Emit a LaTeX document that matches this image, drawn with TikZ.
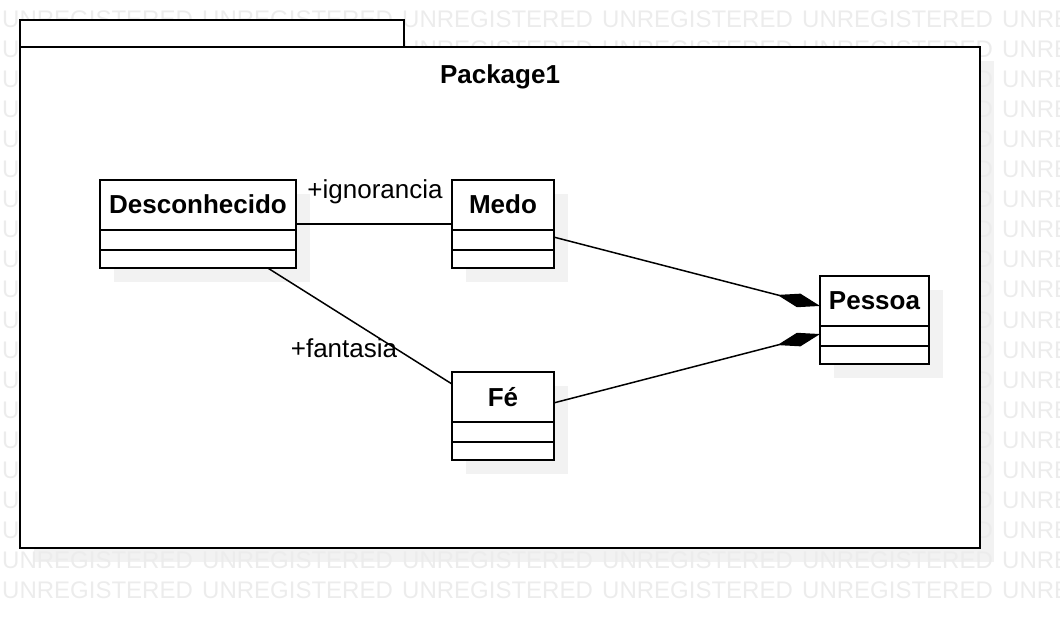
\documentclass[tikz,border=0pt]{standalone}
\usepackage{fontspec}
\setmainfont{Liberation Sans}
\usetikzlibrary{arrows.meta,calc,shadows}
\definecolor{wm}{RGB}{236,236,236}
\definecolor{shd}{RGB}{242,242,242}
\begin{document}
\begin{tikzpicture}[x=1pt,y=-1pt,
  classbox/.style={draw, line width=2pt, fill=white, rectangle, inner sep=0pt, outer sep=0pt,
    drop shadow={shadow xshift=14pt, shadow yshift=-14pt, fill=shd, draw=none, opacity=1}},
  pkgbox/.style={draw, line width=2pt, fill=white, rectangle, inner sep=0pt, outer sep=0pt, anchor=north west},
  divider/.style={line width=2pt},
  titletext/.style={font=\fontsize{26}{30}\selectfont\bfseries, anchor=base, inner sep=0pt},
  lbl/.style={font=\fontsize{26}{30}\selectfont, anchor=base, inner sep=0pt},
  wmtext/.style={font=\fontsize{24}{28}\selectfont, text=wm, anchor=base west, inner sep=0pt},
  assoc/.style={line width=1.5pt},
  comp/.style={line width=1.5pt, -{Diamond[length=44pt,width=14pt]}},
]
\useasboundingbox (0,0) rectangle (1060,628);
% package shadow
\fill[shd] (34,61) rectangle (994,562);
% watermark
\foreach \r in {0,...,19}{
  \foreach \c in {0,...,5}{
    \node[wmtext] (wm-\r-\c) at ({200*\c+2},{28+30*\r}) {UNREGISTERED};
  }
}
% package
\node[pkgbox, minimum width=384pt, minimum height=27pt] (tab) at (20,20) {};
\node[pkgbox, minimum width=960pt, minimum height=501pt] (pkg) at (20,47) {};
\node[titletext] (pkgt) at (500,84) {Package1};

% classes
\node[classbox, minimum width=196pt, minimum height=88pt] (desc) at (198,224) {};
\node[classbox, minimum width=102pt, minimum height=88pt] (medo) at (503,224) {};
\node[classbox, minimum width=102pt, minimum height=88pt] (fe) at (503,416) {};
\node[classbox, minimum width=109pt, minimum height=88pt] (pessoa) at (874.5,320) {};

\foreach \n in {desc,medo,fe,pessoa}{
  \draw[divider] ($(\n.north west)+(0,50)$) -- ($(\n.north east)+(0,50)$);
  \draw[divider] ($(\n.north west)+(0,70)$) -- ($(\n.north east)+(0,70)$);
}
\node[titletext] (desct) at ($(desc.north)+(0,34)$) {Desconhecido};
\node[titletext] (medot) at ($(medo.north)+(0,34)$) {Medo};
\node[titletext] (fet) at ($(fe.north)+(0,34)$) {Fé};
\node[titletext] (pessoat) at ($(pessoa.north)+(0,33)$) {Pessoa};

% connectors
\draw[assoc] (desc) -- (medo);
\draw[assoc] (desc) -- (fe);
\draw[comp] (medo) -- (pessoa);
\draw[comp] (fe) -- (pessoa);

\node[lbl] (l1) at (375,199) {+ignorancia};
\node[lbl] (l2) at (344,357) {+fantasia};
\end{tikzpicture}
\end{document}
